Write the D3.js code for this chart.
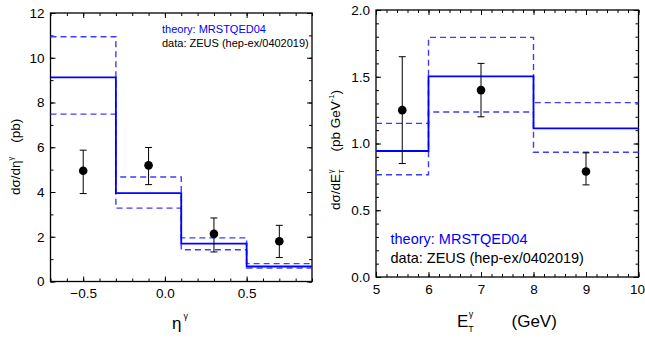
<!DOCTYPE html>
<html>
<head>
<meta charset="utf-8">
<script src="https://cdn.jsdelivr.net/npm/d3@7"></script>
<style>
  body { margin: 0; background: #fff; }
  svg { display: block; font-family: "Liberation Sans", Arial, sans-serif; }
</style>
</head>
<body>
<svg id="chart" width="645" height="338"></svg>
<script>
// left panel: d(sigma)/d(eta)
const etaEdges = [-0.7, -0.3, 0.1, 0.5, 0.9];
const etaTheory = [9.12, 3.95, 1.69, 0.67];
const etaTheoryHi = [10.94, 4.67, 1.95, 0.80];
const etaTheoryLo = [7.48, 3.28, 1.42, 0.60];
const etaPoints = [-0.5, -0.1, 0.3, 0.7];
const etaData = [4.95, 5.19, 2.13, 1.80];
const etaErrHi = [5.87, 5.99, 2.84, 2.51];
const etaErrLo = [3.93, 4.33, 1.32, 1.07];
const etaXTicks = [-0.5, 0.0, 0.5];
const etaYTicks = [0, 2, 4, 6, 8, 10, 12];

// right panel: d(sigma)/d(ET)
const etEdges = [5, 6, 8, 10];
const etTheory = [0.944, 1.503, 1.114];
const etTheoryHi = [1.151, 1.795, 1.306];
const etTheoryLo = [0.766, 1.236, 0.934];
const etPoints = [5.5, 7, 9];
const etData = [1.25, 1.40, 0.79];
const etErrHi = [1.65, 1.60, 0.93];
const etErrLo = [0.85, 1.20, 0.69];
const etXTicks = [5, 6, 7, 8, 9, 10];
const etYTicks = [0, 0.5, 1.0, 1.5, 2.0];

const svg = d3.select("#chart");
const blue = "#0000ff";
const dashBlue = "#3c3cff";

function drawPanel(p) {
  const x = d3.scaleLinear().domain(p.xDomain).range([p.left, p.right]);
  const y = d3.scaleLinear().domain(p.yDomain).range([p.bottom, p.top]);
  const g = svg.append("g");

  // inward ticks on all four sides
  const w = p.right - p.left, h = p.bottom - p.top;
  const sides = [
    [d3.axisBottom, `translate(0,${p.bottom})`, x, p.xTicks, p.xMinor],
    [d3.axisTop, `translate(0,${p.top})`, x, p.xTicks, p.xMinor],
    [d3.axisLeft, `translate(${p.left},0)`, y, p.yTicks, p.yMinor],
    [d3.axisRight, `translate(${p.right},0)`, y, p.yTicks, p.yMinor]
  ];
  sides.forEach(([ax, tr, sc, major, nMinor]) => {
    g.append("g").attr("transform", tr)
      .call(ax(sc).tickValues(sc.ticks(nMinor)).tickSize(-3).tickFormat(""))
      .call(a => a.select(".domain").remove());
    g.append("g").attr("transform", tr)
      .call(ax(sc).tickValues(major).tickSize(-5).tickFormat(""))
      .call(a => a.select(".domain").remove());
  });
  g.selectAll(".tick line").attr("stroke", "#000").attr("stroke-width", 1);

  // tick labels
  g.append("g").attr("transform", `translate(0,${p.bottom})`)
    .call(d3.axisBottom(x).tickValues(p.xTicks).tickSize(0).tickPadding(p.xPad).tickFormat(p.xFmt))
    .call(a => a.select(".domain").remove())
    .selectAll("text").attr("font-size", 13.5).attr("fill", "#000")
    .attr("dx", d => x(d) > 630 ? -1.5 : 0);
  g.append("g").attr("transform", `translate(${p.left},0)`)
    .call(d3.axisLeft(y).tickValues(p.yTicks).tickSize(0).tickPadding(6).tickFormat(p.yFmt))
    .call(a => a.select(".domain").remove())
    .selectAll("text").attr("font-size", 13.5).attr("fill", "#000");

  // frame
  g.append("rect").attr("x", p.left).attr("y", p.top)
    .attr("width", w).attr("height", h)
    .attr("fill", "none").attr("stroke", "#000").attr("stroke-width", 1.3);

  const step = d3.line().x(d => x(d[0])).y(d => y(d[1])).curve(d3.curveStepAfter);
  const pts = vals => vals.map((v, i) => [p.edges[i], v]).concat([[p.edges[p.edges.length - 1], vals[vals.length - 1]]]);

  [p.hi, p.lo].forEach(vals => {
    g.append("path").datum(pts(vals))
      .attr("fill", "none").attr("stroke", dashBlue)
      .attr("stroke-width", 1.4).attr("stroke-dasharray", "6,4")
      .attr("d", step);
  });
  g.append("path").datum(pts(p.theory))
    .attr("fill", "none").attr("stroke", blue).attr("stroke-width", 1.8)
    .attr("d", step);

  // data points with error bars
  const pd = p.points.map((px, i) => ({ x: px, v: p.data[i], hi: p.errHi[i], lo: p.errLo[i] }));
  const eb = g.append("g").attr("stroke", "#000").attr("stroke-width", 1);
  eb.selectAll(".bar").data(pd).enter().append("line")
    .attr("x1", d => x(d.x)).attr("x2", d => x(d.x))
    .attr("y1", d => y(d.hi)).attr("y2", d => y(d.lo));
  [d => d.hi, d => d.lo].forEach(f => {
    eb.selectAll(null).data(pd).enter().append("line")
      .attr("x1", d => x(d.x) - 3.5).attr("x2", d => x(d.x) + 3.5)
      .attr("y1", d => y(f(d))).attr("y2", d => y(f(d)));
  });
  g.selectAll(".dot").data(pd).enter().append("circle")
    .attr("cx", d => x(d.x)).attr("cy", d => y(d.v)).attr("r", 4.3)
    .attr("fill", "#000");

  return g;
}

const left = drawPanel({
  left: 50.5, right: 312, top: 13, bottom: 281.5,
  xDomain: [-0.7, 0.9], yDomain: [0, 12],
  xTicks: etaXTicks, yTicks: etaYTicks, xMinor: 16, yMinor: 12,
  xFmt: d3.format(".1f"), yFmt: d3.format("d"), xPad: 7,
  edges: etaEdges, theory: etaTheory, hi: etaTheoryHi, lo: etaTheoryLo,
  points: etaPoints, data: etaData, errHi: etaErrHi, errLo: etaErrLo
});

const right = drawPanel({
  left: 376, right: 638.5, top: 10, bottom: 277,
  xDomain: [5, 10], yDomain: [0, 2],
  xTicks: etXTicks, yTicks: etYTicks, xMinor: 20, yMinor: 20,
  xFmt: d3.format("d"), yFmt: d3.format(".1f"), xPad: 7,
  edges: etEdges, theory: etTheory, hi: etTheoryHi, lo: etTheoryLo,
  points: etPoints, data: etData, errHi: etErrHi, errLo: etErrLo
});

// legends
left.append("text").attr("x", 162).attr("y", 33).attr("font-size", 11)
  .attr("fill", blue).text("theory: MRSTQED04");
left.append("text").attr("x", 162).attr("y", 46.5).attr("font-size", 11)
  .attr("fill", "#000").text("data: ZEUS (hep-ex/0402019)");
right.append("text").attr("x", 390.5).attr("y", 243.5).attr("font-size", 14.5)
  .attr("fill", blue).text("theory: MRSTQED04");
right.append("text").attr("x", 390.5).attr("y", 262.5).attr("font-size", 14.5)
  .attr("fill", "#000").text("data: ZEUS (hep-ex/0402019)");

// x axis titles
const xt1 = svg.append("text").attr("x", 172).attr("y", 329).attr("font-size", 17);
xt1.append("tspan").text("η");
xt1.append("tspan").attr("dy", -10).attr("dx", 2).attr("font-size", 9).text("γ");

const xt2 = svg.append("text").attr("x", 457).attr("y", 327).attr("font-size", 17);
xt2.append("tspan").text("E");
xt2.append("tspan").attr("dy", 5).attr("font-size", 9).text("T");
xt2.append("tspan").attr("dy", -15).attr("dx", -5).attr("font-size", 9).text("γ");
xt2.append("tspan").attr("x", 511.5).attr("y", 327).text("(GeV)");

// y axis titles (rotated)
const yt1 = svg.append("text").attr("transform", "rotate(-90)")
  .attr("x", -195).attr("y", 20).attr("font-size", 13.5);
yt1.append("tspan").text("dσ/dη");
yt1.append("tspan").attr("dy", -7).attr("font-size", 7.5).text("γ");
yt1.append("tspan").attr("dy", 7).attr("dx", 14).text("(pb)");

const yt2 = svg.append("text").attr("transform", "rotate(-90)")
  .attr("x", -210).attr("y", 340).attr("font-size", 13.5);
yt2.append("tspan").text("dσ/dE");
yt2.append("tspan").attr("dy", 4).attr("font-size", 7.5).text("T");
yt2.append("tspan").attr("dy", -11).attr("dx", -4).attr("font-size", 7.5).text("γ");
yt2.append("tspan").attr("dy", 7).attr("dx", 18).text("(pb GeV");
yt2.append("tspan").attr("dy", -6).attr("font-size", 7.5).text("-1");
yt2.append("tspan").attr("dy", 6).text(")");
</script>
</body>
</html>
